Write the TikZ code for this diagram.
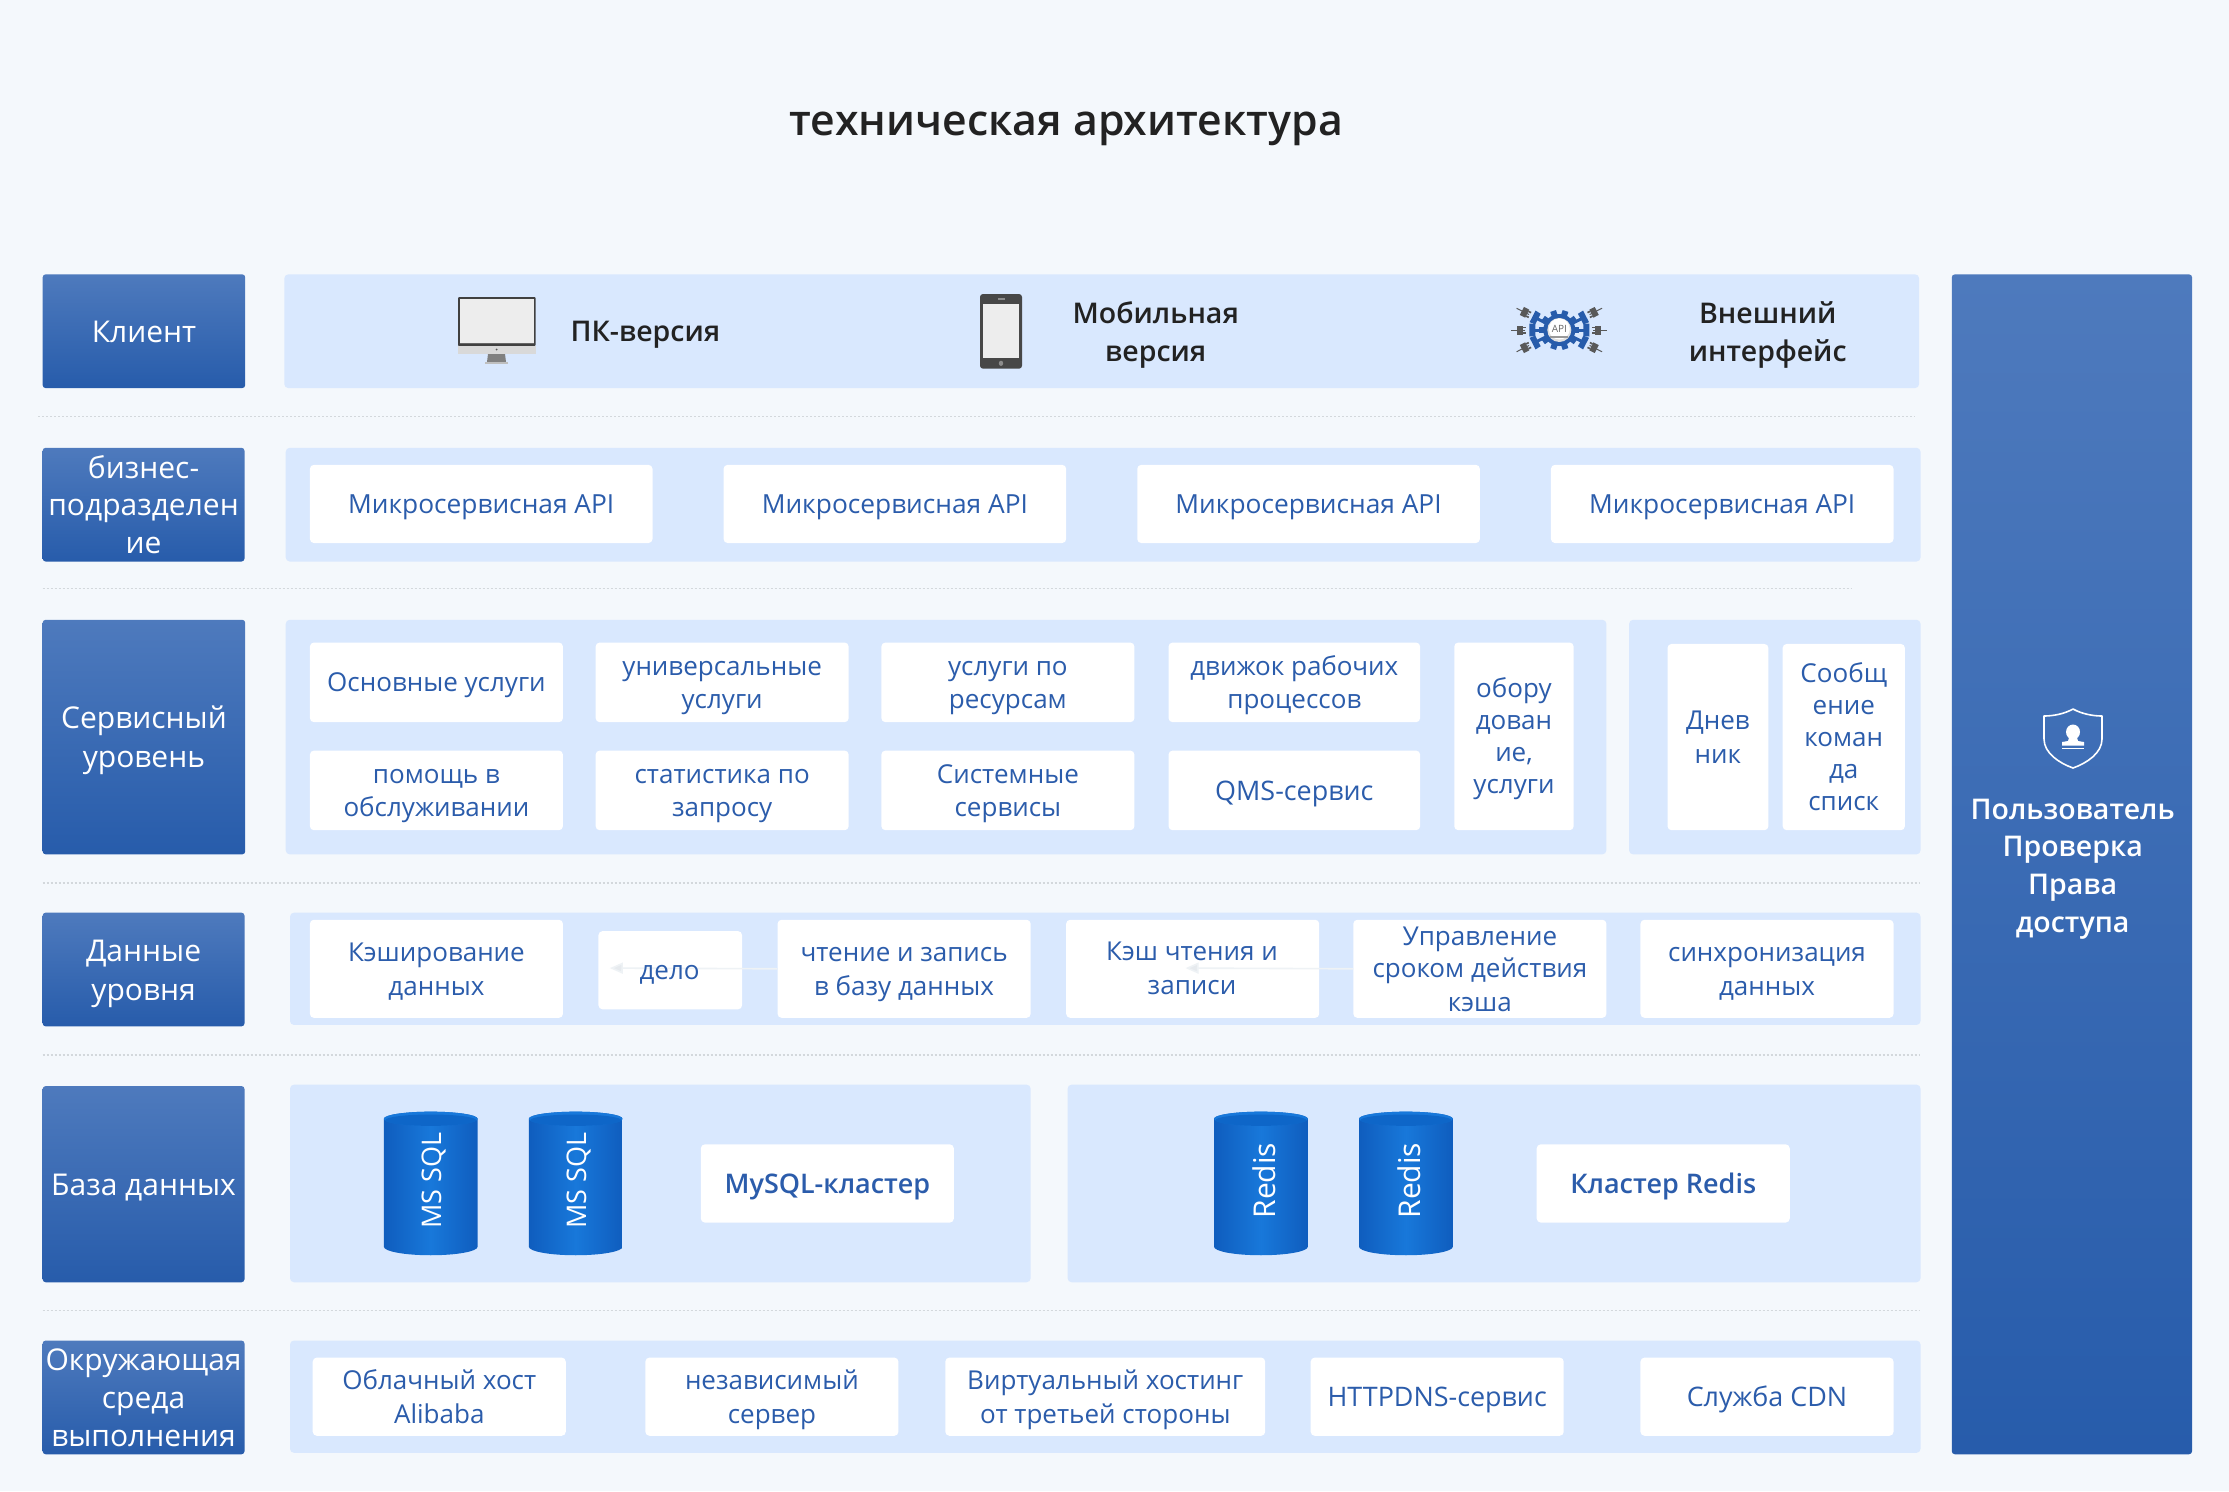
\documentclass[tikz,border=0pt]{standalone}
\usepackage{fontspec}
\usetikzlibrary{arrows.meta}
\setmainfont{Open Sans}
\newfontfamily\medf{Open Sans Semibold}
\newfontfamily\boldf{Open Sans Semibold}
\definecolor{bgc}{HTML}{F4F8FC}
\definecolor{panelc}{HTML}{D9E8FE}
\definecolor{lbltop}{HTML}{4E7ABD}
\definecolor{lblbot}{HTML}{275CAB}
\definecolor{txtb}{HTML}{2B5CAB}
\definecolor{txtd}{HTML}{222222}
\definecolor{dotc}{HTML}{D3D8DC}
\definecolor{faint}{HTML}{EEF2F5}
\definecolor{fainth}{HTML}{E6EAEE}
\definecolor{cyla}{HTML}{0F5DBE}
\definecolor{cylb}{HTML}{1878DA}
\definecolor{cylt}{HTML}{0E66C8}
\def\ks{1.42156}
\newcommand\bxs{\rule[-.26em]{0pt}{1.26em}}
\newcommand\bx[7]{\pgfmathsetmacro\bxw{(#5-#3)*\ks}\pgfmathsetmacro\bxh{(#6-#4)*\ks}%
\node[#1,minimum width=\bxw pt,minimum height=\bxh pt] (#2) at ({(#3+#5)/2},{(#4+#6)/2}) {\bxs #7\bxs};}
\newcommand\cyl[5]{% name, x1, x2, text, style
\begin{scope}
\path[left color=cyla,right color=cyla,middle color=cylb]
 (#2,787) arc[start angle=180,end angle=360,x radius={(#3-#2)/2},y radius=5]
 -- (#3,877) arc[start angle=0,end angle=180,x radius={(#3-#2)/2},y radius=6] -- cycle;
\path[fill=cylb] ({(#2+#3)/2},787) ellipse[x radius={(#3-#2)/2},y radius=5];
\path[fill=cylt] ({(#2+#3)/2},788) ellipse[x radius={(#3-#2)/2-1},y radius=4];
\node[cyltext,#5] (#1) at ({(#2+#3)/2+2},830.5) {#4};
\end{scope}}
\tikzset{
 x=1.42156pt,y=-1.42156pt,
 lbl/.style={rounded corners=3pt,top color=lbltop,bottom color=lblbot,text=white,inner sep=0pt,align=center,font=\fontsize{30}{37.7}\selectfont},
 panel/.style={rounded corners=4pt,fill=panelc,inner sep=0pt},
 wtext/.style={text=txtb,inner sep=0pt,align=center,font=\fontsize{26}{32}\selectfont},
 wbox/.style={wtext,rounded corners=4pt,fill=white},
 wboxm/.style={wbox,font=\fontsize{26.3}{32}\selectfont},
 wboxl/.style={wbox,font=\fontsize{26.9}{32}\selectfont},
 cbox/.style={wbox,font=\boldf\fontsize{27}{32}\selectfont},
 ctext/.style={text=txtd,inner sep=0pt,align=center,font=\medf\fontsize{28.5}{38}\selectfont},
 rtext/.style={text=white,inner sep=0pt,align=center,font=\medf\fontsize{28.5}{37.7}\selectfont},
 ttext/.style={text=txtd,inner sep=0pt,font=\medf\fontsize{42.8}{50}\selectfont},
 cyltext/.style={text=white,inner sep=0pt,rotate=90,font=\fontsize{27}{32}\selectfont},
 sep/.style={draw=dotc,line width=1.5pt,dash pattern=on 2pt off 2pt},
 fa/.style={draw=faint,line width=1.6pt,-{Triangle[length=13pt,width=11pt,fill=fainth]}},
}
\begin{document}
\begin{tikzpicture}
\useasboundingbox (0,0) rectangle (1568,1048.85);
\fill[bgc] (0,0) rectangle (1568,1048.85);
\node[ttext] (title) at (750,84) {\bxs техническая архитектура\bxs};
% separators
\coordinate (s1a) at (27,293);\coordinate (s1b) at (1347,293);
\coordinate (s2a) at (30,414);\coordinate (s2b) at (1302,414);
\coordinate (s3a) at (30,621);\coordinate (s3b) at (1350,621);
\coordinate (s4a) at (30,742);\coordinate (s4b) at (1350,742);
\coordinate (s5a) at (30,922);\coordinate (s5b) at (1350,922);
\draw[sep] (s1a)--(s1b);\draw[sep] (s2a)--(s2b);\draw[sep] (s3a)--(s3b);\draw[sep] (s4a)--(s4b);\draw[sep] (s5a)--(s5b);
% left labels
\bx{lbl}{lclient}{30}{193}{172.5}{273}{Клиент}
\bx{lbl}{lbiz}{30}{315}{172}{395}{бизнес-\\подразделен\\ие}
\bx{lbl}{lsvc}{30}{436}{172.5}{601}{Сервисный\\уровень}
\bx{lbl}{ldata}{30}{642}{172}{722}{Данные\\уровня}
\bx{lbl}{ldb}{30}{764}{172}{902}{База данных}
\bx{lbl}{lenv}{30}{943}{172}{1023}{Окружающая\\среда\\выполнения}
\bx{lbl}{rbar}{1373}{193}{1542}{1023}{}
\node[rtext] (rbart) at (1458,608.5) {\bxs Пользователь\\Проверка\\Права\\доступа\bxs};
% panels
\bx{panel}{pclient}{200}{193}{1350}{273}{}
\bx{panel}{pbiz}{201}{315}{1351}{395}{}
\bx{panel}{psvc}{201}{436}{1130}{601}{}
\bx{panel}{psvcb}{1146}{436}{1351}{601}{}
\bx{panel}{pdata}{204}{642}{1351}{721}{}
\bx{panel}{pdba}{204}{763}{725}{902}{}
\bx{panel}{pdbb}{751}{763}{1351}{902}{}
\bx{panel}{penv}{204}{943}{1351}{1022}{}
% client
\node[ctext] (cpc) at (454,233) {\bxs ПК-версия\bxs};
\node[ctext] (cmob) at (813,233.5) {\bxs Мобильная\\версия\bxs};
\node[ctext] (cext) at (1243.5,233.5) {\bxs Внешний\\интерфейс\bxs};
% iMac
\begin{scope}[x=1pt,y=-1pt]
\fill[rounded corners=1pt,fill=black!75] (458,297) rectangle (535.5,346);
\fill[fill=black!7] (460,299) rectangle (533.5,343);
\fill[fill=black!60!white] (460,343) rectangle (533.5,344);
\fill[fill=black!15] (458,346) rectangle (535.5,354);
\fill[black!65] (496.7,349.5) circle (1);
\fill[black!50] (488,354) -- (505,354) -- (506,362) -- (487,362) -- cycle;
\fill[black!25] (485,362) rectangle (508,363.5);
% phone
\fill[rounded corners=3pt,fill=black!72] (980,294) rectangle (1022,368.7);
\fill[black!7] (982.7,304) rectangle (1019.3,358);
\fill[black!45] (1001,363.3) ellipse (2.2 and 2.6);
\fill[black!45] (997.5,298.2) rectangle (1004.5,299.6);
% API icon
\begin{scope}[shift={(1559.3,330)}]
\foreach \a in {0,180,27,-27,153,207}{
 \begin{scope}[rotate=\a]
 \draw[black!65,line width=1pt] (34,0) -- (48,0);
 \fill[black!65] (36,-4.5) rectangle (42,4.5);
 \fill[black!65] (33,-3.5) rectangle (36,-1.8);
 \fill[black!65] (33,1.8) rectangle (36,3.5);
 \draw[lblbot,line width=3pt] (12,0) -- (26,0);
 \fill[lblbot] (24,-6) -- (30,-6.5) -- (30,6.5) -- (24,6) -- cycle;
 \end{scope}}
\foreach \a in {0,36,...,324}{
 \fill[lblbot,rotate=\a+18] (-3,-20) rectangle (3,0);}
\fill[lblbot] (0,0) circle (16);
\fill[black!12] (0,0) circle (12);
\fill[white] (0,-1) circle (10.5);
\fill[black!40] (-9,6) rectangle (9,7.5);
\node[inner sep=0pt,text=black!60,font=\fontsize{10}{10}\selectfont] (apit) at (0,-1) {API};
\end{scope}
% shield
\begin{scope}[shift={(2073,709)}]
\draw[white,line width=1.6pt,line join=round] (0,0) .. controls (9,5) and (20,7) .. (29,7) -- (29,30) .. controls (29,44) and (14,54) .. (0,59) .. controls (-14,54) and (-29,44) .. (-29,30) -- (-29,7) .. controls (-20,7) and (-9,5) .. cycle;
\fill[white] (0,23) ellipse (7 and 7.5);
\fill[white] (-3.5,27) -- (3.5,27) -- (5,32) -- (11,33) -- (11,36.5) -- (-11,36.5) -- (-11,33) -- (-5,32) -- cycle;
\fill[white] (-11,38.5) rectangle (11,40);
\end{scope}
\end{scope}
% micro
\bx{wboxm}{m1}{218}{327}{459}{382}{Микросервисная API}
\bx{wboxm}{m2}{509}{327}{750}{382}{Микросервисная API}
\bx{wboxm}{m3}{800}{327}{1041}{382}{Микросервисная API}
\bx{wboxm}{m4}{1091}{327}{1332}{382}{Микросервисная API}
% service
\bx{wbox}{s1}{218}{452}{396}{508}{Основные услуги}
\bx{wbox}{s2}{419}{452}{597}{508}{универсальные\\услуги}
\bx{wbox}{s3}{620}{452}{798}{508}{услуги по\\ресурсам}
\bx{wbox}{s4}{822}{452}{999}{508}{движок рабочих\\процессов}
\bx{wbox}{s5}{218}{528}{396}{584}{помощь в\\обслуживании}
\bx{wbox}{s6}{419}{528}{597}{584}{статистика по\\запросу}
\bx{wbox}{s7}{620}{528}{798}{584}{Системные\\сервисы}
\bx{wboxl}{s8}{822}{528}{999}{584}{QMS-сервис}
\bx{wbox}{s9}{1023}{452}{1107}{584}{обору\\дован\\ие,\\услуги}
\bx{wbox}{s10}{1173}{453}{1244}{584}{Днев\\ник}
\bx{wbox}{s11}{1254}{453}{1340}{584}{Сообщ\\ение\\коман\\да\\списк}
% data
\bx{wbox}{d1}{218}{647}{396}{716}{Кэширование\\данных}
\bx{wbox}{d2}{421}{655}{522}{710}{}
\bx{wbox}{d3}{547}{647}{725}{716}{чтение и запись\\в базу данных}
\bx{wbox}{d4}{750}{647}{928}{716}{}
\bx{wbox}{d5}{952}{647}{1130}{716}{Управление\\сроком действия\\кэша}
\bx{wbox}{d6}{1154}{647}{1332}{716}{синхронизация\\данных}
\coordinate (ah1) at (429,681);
\coordinate (ah2) at (834,681);
\draw[fa] (d3.west) -- (ah1);
\draw[fa] (d5.west) -- (ah2);
\node[wtext] (d2t) at (471,682) {\bxs дело\bxs};
\node[wtext] (d4t) at (838.5,681) {\bxs Кэш чтения и\\записи\bxs};
% database
\cyl{c1}{270}{336}{MS SQL}{}
\cyl{c2}{372}{438}{MS SQL}{}
\cyl{c3}{854}{920}{Redis}{font=\fontsize{30}{32}\selectfont}
\cyl{c4}{956}{1022}{Redis}{font=\fontsize{30}{32}\selectfont}
\bx{cbox}{k1}{493}{805}{671}{860}{MySQL-кластер}
\bx{cbox}{k2}{1081}{805}{1259}{860}{Кластер Redis}
% env
\bx{wbox}{e1}{220}{955}{398}{1010}{Облачный хост\\Alibaba}
\bx{wbox}{e2}{454}{955}{632}{1010}{независимый\\сервер}
\bx{wbox}{e3}{665}{955}{890}{1010}{Виртуальный хостинг\\от третьей стороны}
\bx{wboxl}{e4}{922}{955}{1100}{1010}{HTTPDNS-сервис}
\bx{wboxl}{e5}{1154}{955}{1332}{1010}{Служба CDN}
\end{tikzpicture}
\end{document}
